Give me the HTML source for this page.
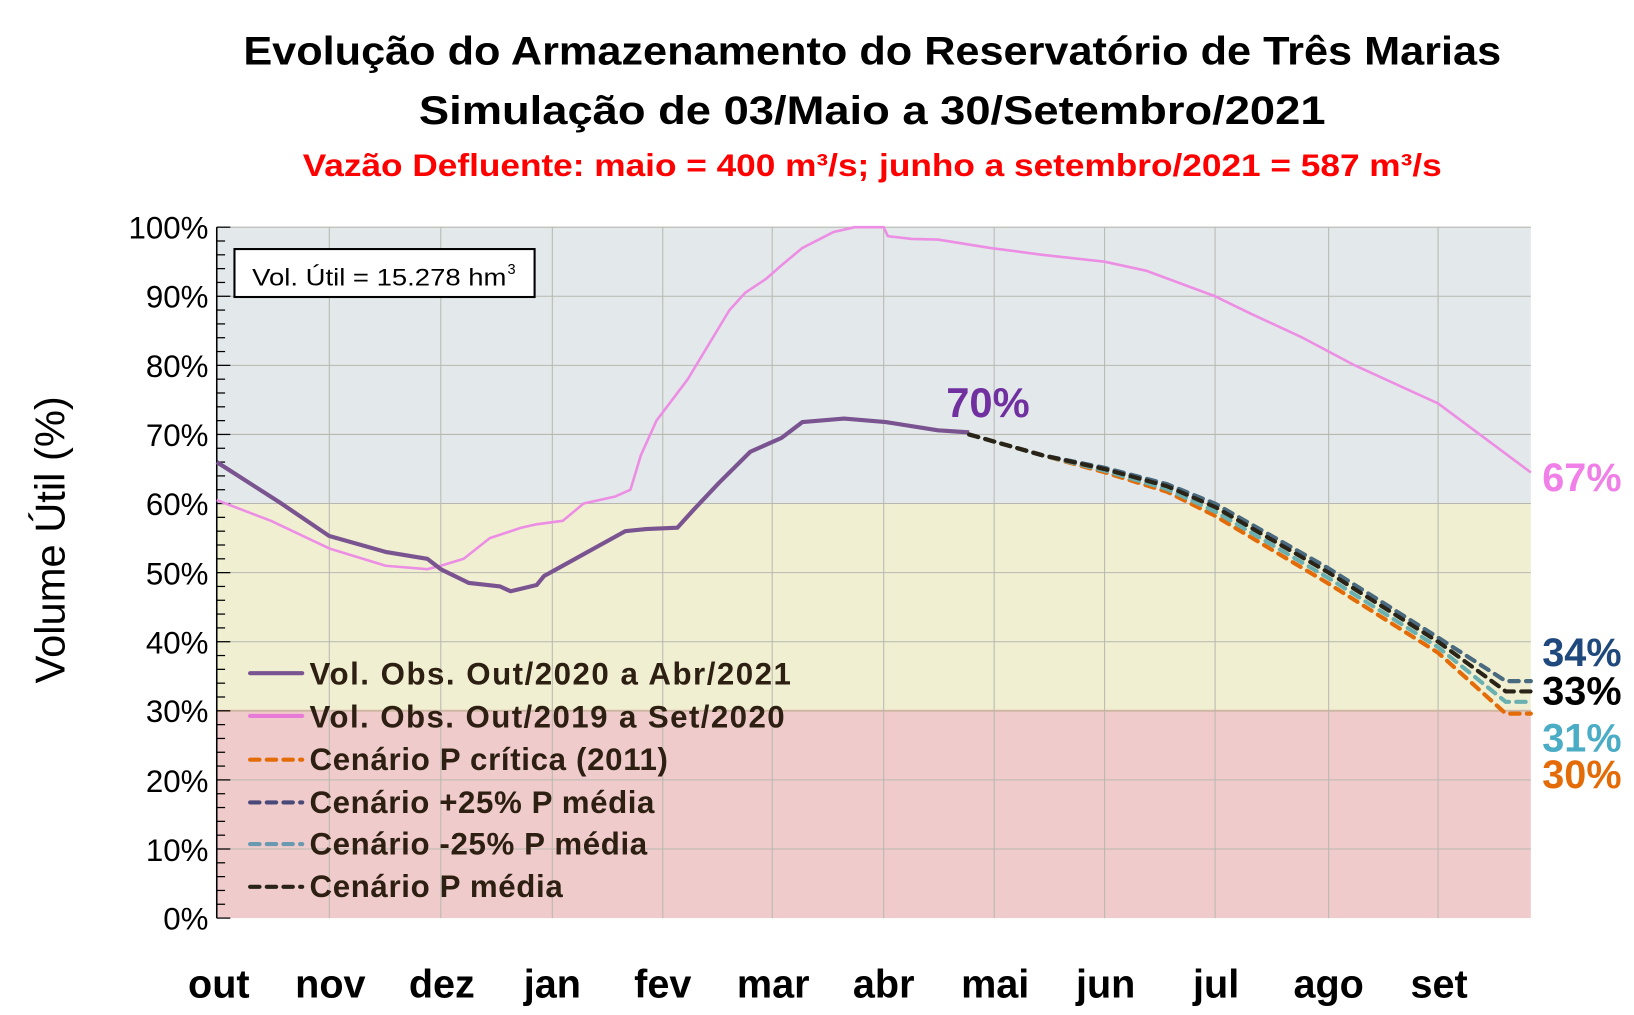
<!DOCTYPE html>
<html><head><meta charset="utf-8"><style>
html,body{margin:0;padding:0;background:#fff;}
svg{display:block;font-family:"Liberation Sans",sans-serif;}
</style></head><body>
<svg id="s" width="1634" height="1015" viewBox="0 0 1568 974" preserveAspectRatio="none" xmlns="http://www.w3.org/2000/svg">
<rect x="208" y="218" width="1261" height="265.2" fill="#e3e9ea"/>
<rect x="208" y="483.2" width="1261" height="198.9" fill="#f1efd2"/>
<rect x="208" y="682.1" width="1261" height="198.9" fill="#f0cbcb"/>
<line x1="208" y1="682.1" x2="1469" y2="682.1" stroke="#f0b89a" stroke-width="2"/>
<g id="grid" stroke="#b8b8b0" stroke-width="1"></g>
<g id="ticks" stroke="#000" stroke-width="1.2"></g>
<line x1="208" y1="218" x2="208" y2="881" stroke="#000" stroke-width="1.5"/>
<g font-size="30" text-anchor="end" fill="#000">
<text x="200" y="229">100%</text><text x="200" y="295">90%</text><text x="200" y="362">80%</text><text x="200" y="428">70%</text><text x="200" y="494">60%</text><text x="200" y="561">50%</text><text x="200" y="627">40%</text><text x="200" y="693">30%</text><text x="200" y="760">20%</text><text x="200" y="826">10%</text><text x="200" y="892">0%</text>
</g>
<g font-size="38" font-weight="bold" text-anchor="middle" fill="#000">
<text x="210" y="957">out</text><text x="317" y="957">nov</text><text x="424" y="957">dez</text><text x="530" y="957">jan</text><text x="636" y="957">fev</text><text x="742" y="957">mar</text><text x="848" y="957">abr</text><text x="955" y="957">mai</text><text x="1061" y="957">jun</text><text x="1167" y="957">jul</text><text x="1275" y="957">ago</text><text x="1381" y="957">set</text>
</g>
<text transform="translate(62,518) rotate(-90)" font-size="40" text-anchor="middle" fill="#000">Volume  Útil (%)</text>
<text x="837" y="62" font-size="38" font-weight="bold" text-anchor="middle" textLength="1207" lengthAdjust="spacingAndGlyphs">Evolução do Armazenamento do Reservatório de Três Marias</text>
<text x="837" y="119" font-size="38" font-weight="bold" text-anchor="middle" textLength="870" lengthAdjust="spacingAndGlyphs">Simulação de 03/Maio a 30/Setembro/2021</text>
<text x="837" y="169" font-size="30" font-weight="bold" text-anchor="middle" fill="#ff0000" textLength="1093" lengthAdjust="spacingAndGlyphs">Vazão Defluente: maio = 400 m³/s; junho a setembro/2021 = 587 m³/s</text>
<rect x="225" y="239" width="288" height="46" fill="#fff" stroke="#000" stroke-width="2"/>
<text x="242" y="274" font-size="23" fill="#000" textLength="244" lengthAdjust="spacingAndGlyphs">Vol. Útil  = 15.278 hm</text>
<text x="487" y="263" font-size="14" fill="#000">3</text>
<g id="lines" fill="none" stroke-linejoin="round"></g>
<text x="908" y="400" font-size="40" font-weight="bold" fill="#7030a0">70%</text>
<g font-size="38" font-weight="bold">
<text x="1480" y="471" fill="#f080e8">67%</text>
<text x="1480" y="639" fill="#1f497d">34%</text>
<text x="1480" y="676" fill="#000">33%</text>
<text x="1480" y="721" fill="#4bacc6">31%</text>
<text x="1480" y="756" fill="#e36c09">30%</text>
</g>
<g font-size="30" font-weight="bold" fill="#2d2012" lengthAdjust="spacingAndGlyphs">
<text x="297" y="657" textLength="462">Vol. Obs. Out/2020 a Abr/2021</text>
<text x="297" y="698" textLength="456">Vol. Obs. Out/2019 a Set/2020</text>
<text x="297" y="739" textLength="344">Cenário P crítica (2011)</text>
<text x="297" y="780" textLength="331">Cenário +25% P média</text>
<text x="297" y="820" textLength="324">Cenário -25% P média</text>
<text x="297" y="861" textLength="243">Cenário P média</text>
</g>
<g stroke-width="4" stroke-linecap="round">
<line x1="240" y1="646" x2="290" y2="646" stroke="#7a5490"/>
<line x1="240" y1="687" x2="290" y2="687" stroke="#e87ad8"/>
<line x1="240" y1="729" x2="290" y2="729" stroke="#e36c09" stroke-dasharray="9,7"/>
<line x1="240" y1="770" x2="290" y2="770" stroke="#4a4a7a" stroke-dasharray="9,7"/>
<line x1="240" y1="810" x2="290" y2="810" stroke="#6a9ab0" stroke-dasharray="9,7"/>
<line x1="240" y1="851" x2="290" y2="851" stroke="#2a2418" stroke-dasharray="9,7"/>
</g>
</svg>
<script>
var NS="http://www.w3.org/2000/svg";
function Y(v){return 881-v*6.63;}
function el(p,t,a){var e=document.createElementNS(NS,t);for(var k in a)e.setAttribute(k,a[k]);p.appendChild(e);return e;}
var grid=document.getElementById('grid'),ticks=document.getElementById('ticks'),lines=document.getElementById('lines');
for(var v=10;v<=100;v+=10)el(grid,'line',{x1:208,x2:1469,y1:Y(v),y2:Y(v)});
[316,423,530,636,741,848,954,1060,1166,1275,1380].forEach(function(x){el(grid,'line',{x1:x,x2:x,y1:218,y2:881});});
for(var v=0;v<=100;v+=2)el(ticks,'line',{x1:208,x2:v%10==0?221:216,y1:Y(v),y2:Y(v)});
function pts(a){return a.map(function(p){return p[0]+','+Y(p[1]).toFixed(1);}).join(' ');}
var pink=[[208,60.5],[260,57.5],[316,53.5],[370,51],[410,50.5],[423,51],[445,52],[470,55],[500,56.5],[515,57],[540,57.5],[560,60],[590,61],[605,62],[615,67],[630,72],[640,74],[660,78],[680,83],[700,88],[715,90.5],[735,92.5],[750,94.5],[770,97],[800,99.3],[820,100],[848,100],[852,98.7],[875,98.3],[900,98.2],[950,97],[1000,96],[1060,95],[1100,93.7],[1166,90],[1200,87.5],[1250,84],[1300,80],[1380,74.5],[1420,70],[1469,64.5]];
var purple=[[208,66],[265,60.5],[270,60],[316,55.3],[370,53],[410,52],[423,50.5],[450,48.5],[480,48],[490,47.3],[515,48.2],[522,49.5],[540,51],[570,53.5],[600,56],[620,56.3],[650,56.5],[665,59],[690,63],[720,67.5],[750,69.5],[770,71.8],[810,72.3],[850,71.8],[900,70.6],[930,70.3]];
el(lines,'polyline',{points:pts(pink),stroke:'#ec8ee4','stroke-width':2.5});
el(lines,'polyline',{points:pts(purple),stroke:'#7a5490','stroke-width':4});
function scen(off,end){return [[930,70],[1000,67],[1060,65+off*0.3],[1120,62.5+off*0.5],[1166,59.5+off*0.8],[1275,50+off],[1380,40+off],[1445,end],[1469,end]];}
[['#e36c09',-1.6,29.6],['#6ab0b0',-0.8,31.3],['#4a6a80',0.6,34.3],['#2a2418',0,32.8]].forEach(function(s){
el(lines,'polyline',{points:pts(scen(s[1],s[2])),stroke:s[0],'stroke-width':4,'stroke-dasharray':'9,7','stroke-linecap':'round'});});
</script>
</body></html>
